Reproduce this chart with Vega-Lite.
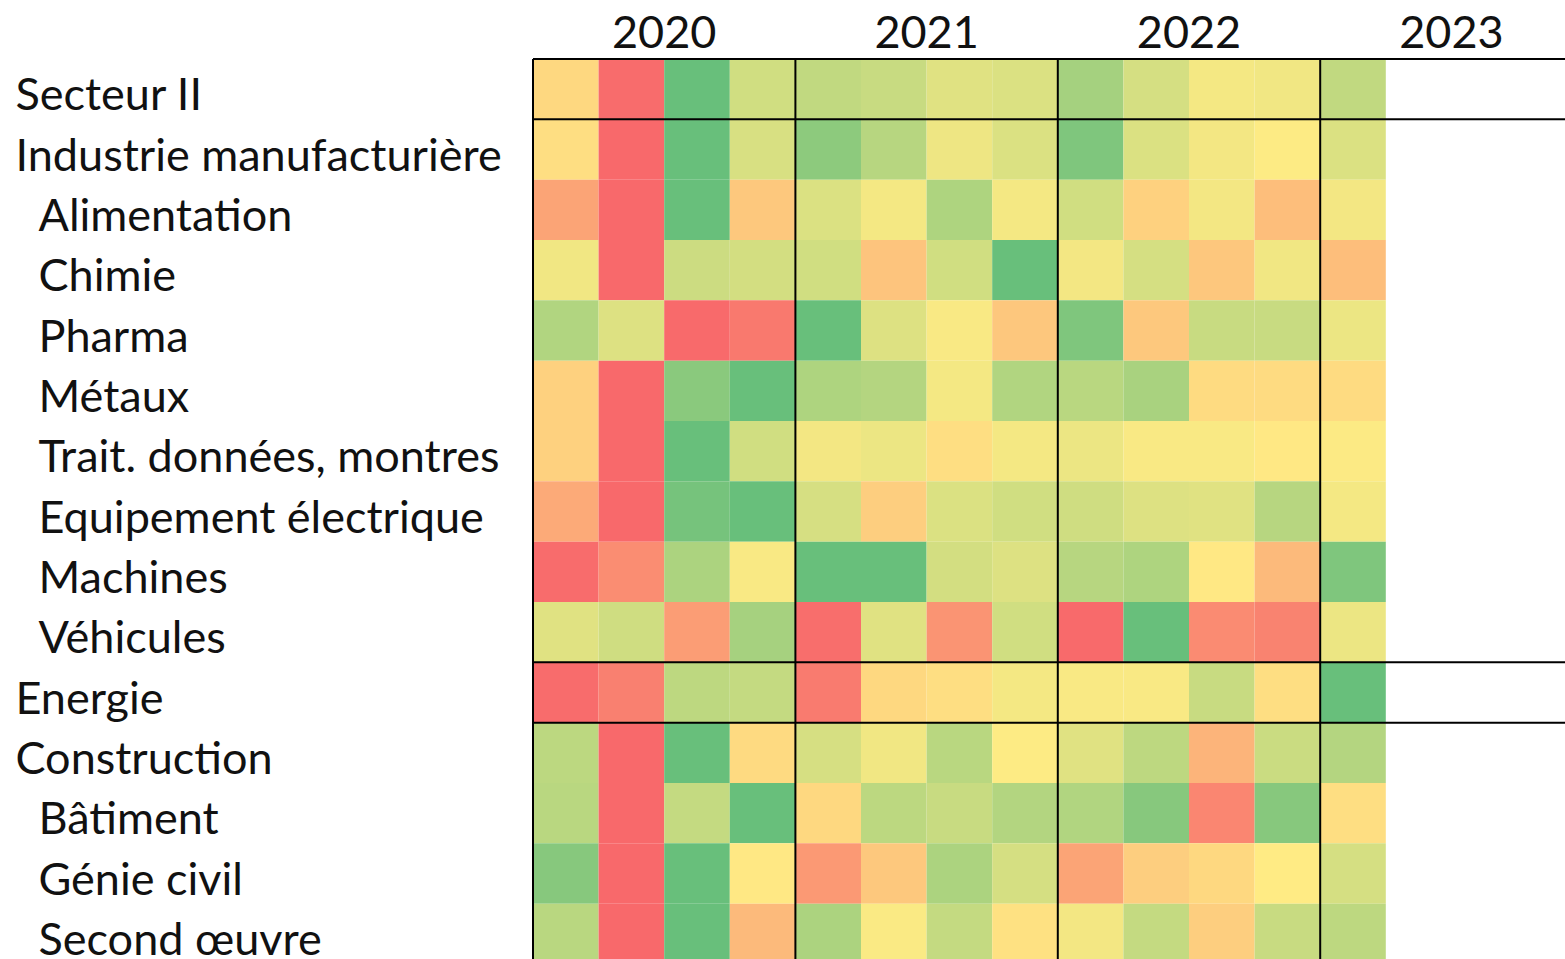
{
  "$schema": "https://vega.github.io/schema/vega-lite/v6.json",
  "width": 1032,
  "height": 900,
  "autosize": "none",
  "padding": {"left": 533, "top": 59, "right": 0, "bottom": 0},
  "background": "white",
  "config": {"view": {"stroke": null}, "font": "Lato"},
  "datasets": {
    "cells": [
      {"sector": "Secteur II", "quarter": "2020 T1", "score": -0.15},
      {"sector": "Secteur II", "quarter": "2020 T2", "score": -0.98},
      {"sector": "Secteur II", "quarter": "2020 T3", "score": 0.97},
      {"sector": "Secteur II", "quarter": "2020 T4", "score": 0.3},
      {"sector": "Secteur II", "quarter": "2021 T1", "score": 0.4},
      {"sector": "Secteur II", "quarter": "2021 T2", "score": 0.35},
      {"sector": "Secteur II", "quarter": "2021 T3", "score": 0.2},
      {"sector": "Secteur II", "quarter": "2021 T4", "score": 0.23},
      {"sector": "Secteur II", "quarter": "2022 T1", "score": 0.58},
      {"sector": "Secteur II", "quarter": "2022 T2", "score": 0.27},
      {"sector": "Secteur II", "quarter": "2022 T3", "score": 0.07},
      {"sector": "Secteur II", "quarter": "2022 T4", "score": 0.09},
      {"sector": "Secteur II", "quarter": "2023 T1", "score": 0.4},

      {"sector": "Industrie manufacturière", "quarter": "2020 T1", "score": -0.1},
      {"sector": "Industrie manufacturière", "quarter": "2020 T2", "score": -1},
      {"sector": "Industrie manufacturière", "quarter": "2020 T3", "score": 0.97},
      {"sector": "Industrie manufacturière", "quarter": "2020 T4", "score": 0.25},
      {"sector": "Industrie manufacturière", "quarter": "2021 T1", "score": 0.73},
      {"sector": "Industrie manufacturière", "quarter": "2021 T2", "score": 0.46},
      {"sector": "Industrie manufacturière", "quarter": "2021 T3", "score": 0.11},
      {"sector": "Industrie manufacturière", "quarter": "2021 T4", "score": 0.23},
      {"sector": "Industrie manufacturière", "quarter": "2022 T1", "score": 0.82},
      {"sector": "Industrie manufacturière", "quarter": "2022 T2", "score": 0.23},
      {"sector": "Industrie manufacturière", "quarter": "2022 T3", "score": 0.08},
      {"sector": "Industrie manufacturière", "quarter": "2022 T4", "score": 0.01},
      {"sector": "Industrie manufacturière", "quarter": "2023 T1", "score": 0.23},

      {"sector": "Alimentation", "quarter": "2020 T1", "score": -0.55},
      {"sector": "Alimentation", "quarter": "2020 T2", "score": -1},
      {"sector": "Alimentation", "quarter": "2020 T3", "score": 0.97},
      {"sector": "Alimentation", "quarter": "2020 T4", "score": -0.27},
      {"sector": "Alimentation", "quarter": "2021 T1", "score": 0.23},
      {"sector": "Alimentation", "quarter": "2021 T2", "score": 0.07},
      {"sector": "Alimentation", "quarter": "2021 T3", "score": 0.52},
      {"sector": "Alimentation", "quarter": "2021 T4", "score": 0.07},
      {"sector": "Alimentation", "quarter": "2022 T1", "score": 0.3},
      {"sector": "Alimentation", "quarter": "2022 T2", "score": -0.2},
      {"sector": "Alimentation", "quarter": "2022 T3", "score": 0.08},
      {"sector": "Alimentation", "quarter": "2022 T4", "score": -0.35},
      {"sector": "Alimentation", "quarter": "2023 T1", "score": 0.08},

      {"sector": "Chimie", "quarter": "2020 T1", "score": 0.09},
      {"sector": "Chimie", "quarter": "2020 T2", "score": -1},
      {"sector": "Chimie", "quarter": "2020 T3", "score": 0.33},
      {"sector": "Chimie", "quarter": "2020 T4", "score": 0.28},
      {"sector": "Chimie", "quarter": "2021 T1", "score": 0.3},
      {"sector": "Chimie", "quarter": "2021 T2", "score": -0.3},
      {"sector": "Chimie", "quarter": "2021 T3", "score": 0.3},
      {"sector": "Chimie", "quarter": "2021 T4", "score": 0.97},
      {"sector": "Chimie", "quarter": "2022 T1", "score": 0.08},
      {"sector": "Chimie", "quarter": "2022 T2", "score": 0.27},
      {"sector": "Chimie", "quarter": "2022 T3", "score": -0.28},
      {"sector": "Chimie", "quarter": "2022 T4", "score": 0.09},
      {"sector": "Chimie", "quarter": "2023 T1", "score": -0.35},

      {"sector": "Pharma", "quarter": "2020 T1", "score": 0.5},
      {"sector": "Pharma", "quarter": "2020 T2", "score": 0.22},
      {"sector": "Pharma", "quarter": "2020 T3", "score": -0.99},
      {"sector": "Pharma", "quarter": "2020 T4", "score": -0.88},
      {"sector": "Pharma", "quarter": "2021 T1", "score": 0.97},
      {"sector": "Pharma", "quarter": "2021 T2", "score": 0.22},
      {"sector": "Pharma", "quarter": "2021 T3", "score": 0.04},
      {"sector": "Pharma", "quarter": "2021 T4", "score": -0.28},
      {"sector": "Pharma", "quarter": "2022 T1", "score": 0.82},
      {"sector": "Pharma", "quarter": "2022 T2", "score": -0.27},
      {"sector": "Pharma", "quarter": "2022 T3", "score": 0.35},
      {"sector": "Pharma", "quarter": "2022 T4", "score": 0.35},
      {"sector": "Pharma", "quarter": "2023 T1", "score": 0.12},

      {"sector": "Métaux", "quarter": "2020 T1", "score": -0.2},
      {"sector": "Métaux", "quarter": "2020 T2", "score": -1},
      {"sector": "Métaux", "quarter": "2020 T3", "score": 0.75},
      {"sector": "Métaux", "quarter": "2020 T4", "score": 0.97},
      {"sector": "Métaux", "quarter": "2021 T1", "score": 0.52},
      {"sector": "Métaux", "quarter": "2021 T2", "score": 0.48},
      {"sector": "Métaux", "quarter": "2021 T3", "score": 0.07},
      {"sector": "Métaux", "quarter": "2021 T4", "score": 0.5},
      {"sector": "Métaux", "quarter": "2022 T1", "score": 0.45},
      {"sector": "Métaux", "quarter": "2022 T2", "score": 0.55},
      {"sector": "Métaux", "quarter": "2022 T3", "score": -0.12},
      {"sector": "Métaux", "quarter": "2022 T4", "score": -0.12},
      {"sector": "Métaux", "quarter": "2023 T1", "score": -0.12},

      {"sector": "Trait. données, montres", "quarter": "2020 T1", "score": -0.2},
      {"sector": "Trait. données, montres", "quarter": "2020 T2", "score": -1},
      {"sector": "Trait. données, montres", "quarter": "2020 T3", "score": 0.97},
      {"sector": "Trait. données, montres", "quarter": "2020 T4", "score": 0.3},
      {"sector": "Trait. données, montres", "quarter": "2021 T1", "score": 0.08},
      {"sector": "Trait. données, montres", "quarter": "2021 T2", "score": 0.12},
      {"sector": "Trait. données, montres", "quarter": "2021 T3", "score": -0.1},
      {"sector": "Trait. données, montres", "quarter": "2021 T4", "score": 0.07},
      {"sector": "Trait. données, montres", "quarter": "2022 T1", "score": 0.12},
      {"sector": "Trait. données, montres", "quarter": "2022 T2", "score": 0.04},
      {"sector": "Trait. données, montres", "quarter": "2022 T3", "score": 0.04},
      {"sector": "Trait. données, montres", "quarter": "2022 T4", "score": -0.02},
      {"sector": "Trait. données, montres", "quarter": "2023 T1", "score": 0.02},

      {"sector": "Equipement électrique", "quarter": "2020 T1", "score": -0.5},
      {"sector": "Equipement électrique", "quarter": "2020 T2", "score": -1},
      {"sector": "Equipement électrique", "quarter": "2020 T3", "score": 0.88},
      {"sector": "Equipement électrique", "quarter": "2020 T4", "score": 0.97},
      {"sector": "Equipement électrique", "quarter": "2021 T1", "score": 0.26},
      {"sector": "Equipement électrique", "quarter": "2021 T2", "score": -0.22},
      {"sector": "Equipement électrique", "quarter": "2021 T3", "score": 0.23},
      {"sector": "Equipement électrique", "quarter": "2021 T4", "score": 0.3},
      {"sector": "Equipement électrique", "quarter": "2022 T1", "score": 0.31},
      {"sector": "Equipement électrique", "quarter": "2022 T2", "score": 0.22},
      {"sector": "Equipement électrique", "quarter": "2022 T3", "score": 0.2},
      {"sector": "Equipement électrique", "quarter": "2022 T4", "score": 0.46},
      {"sector": "Equipement électrique", "quarter": "2023 T1", "score": 0.07},

      {"sector": "Machines", "quarter": "2020 T1", "score": -0.98},
      {"sector": "Machines", "quarter": "2020 T2", "score": -0.72},
      {"sector": "Machines", "quarter": "2020 T3", "score": 0.53},
      {"sector": "Machines", "quarter": "2020 T4", "score": 0.04},
      {"sector": "Machines", "quarter": "2021 T1", "score": 0.97},
      {"sector": "Machines", "quarter": "2021 T2", "score": 0.97},
      {"sector": "Machines", "quarter": "2021 T3", "score": 0.28},
      {"sector": "Machines", "quarter": "2021 T4", "score": 0.22},
      {"sector": "Machines", "quarter": "2022 T1", "score": 0.46},
      {"sector": "Machines", "quarter": "2022 T2", "score": 0.52},
      {"sector": "Machines", "quarter": "2022 T3", "score": -0.02},
      {"sector": "Machines", "quarter": "2022 T4", "score": -0.38},
      {"sector": "Machines", "quarter": "2023 T1", "score": 0.82},

      {"sector": "Véhicules", "quarter": "2020 T1", "score": 0.2},
      {"sector": "Véhicules", "quarter": "2020 T2", "score": 0.31},
      {"sector": "Véhicules", "quarter": "2020 T3", "score": -0.6},
      {"sector": "Véhicules", "quarter": "2020 T4", "score": 0.57},
      {"sector": "Véhicules", "quarter": "2021 T1", "score": -0.96},
      {"sector": "Véhicules", "quarter": "2021 T2", "score": 0.2},
      {"sector": "Véhicules", "quarter": "2021 T3", "score": -0.67},
      {"sector": "Véhicules", "quarter": "2021 T4", "score": 0.3},
      {"sector": "Véhicules", "quarter": "2022 T1", "score": -0.99},
      {"sector": "Véhicules", "quarter": "2022 T2", "score": 0.97},
      {"sector": "Véhicules", "quarter": "2022 T3", "score": -0.74},
      {"sector": "Véhicules", "quarter": "2022 T4", "score": -0.8},
      {"sector": "Véhicules", "quarter": "2023 T1", "score": 0.12},

      {"sector": "Energie", "quarter": "2020 T1", "score": -0.98},
      {"sector": "Energie", "quarter": "2020 T2", "score": -0.82},
      {"sector": "Energie", "quarter": "2020 T3", "score": 0.42},
      {"sector": "Energie", "quarter": "2020 T4", "score": 0.38},
      {"sector": "Energie", "quarter": "2021 T1", "score": -0.86},
      {"sector": "Energie", "quarter": "2021 T2", "score": -0.15},
      {"sector": "Energie", "quarter": "2021 T3", "score": -0.1},
      {"sector": "Energie", "quarter": "2021 T4", "score": 0.07},
      {"sector": "Energie", "quarter": "2022 T1", "score": 0.04},
      {"sector": "Energie", "quarter": "2022 T2", "score": 0.04},
      {"sector": "Energie", "quarter": "2022 T3", "score": 0.35},
      {"sector": "Energie", "quarter": "2022 T4", "score": -0.1},
      {"sector": "Energie", "quarter": "2023 T1", "score": 0.97},

      {"sector": "Construction", "quarter": "2020 T1", "score": 0.43},
      {"sector": "Construction", "quarter": "2020 T2", "score": -1},
      {"sector": "Construction", "quarter": "2020 T3", "score": 0.97},
      {"sector": "Construction", "quarter": "2020 T4", "score": -0.13},
      {"sector": "Construction", "quarter": "2021 T1", "score": 0.26},
      {"sector": "Construction", "quarter": "2021 T2", "score": 0.09},
      {"sector": "Construction", "quarter": "2021 T3", "score": 0.45},
      {"sector": "Construction", "quarter": "2021 T4", "score": 0.01},
      {"sector": "Construction", "quarter": "2022 T1", "score": 0.2},
      {"sector": "Construction", "quarter": "2022 T2", "score": 0.42},
      {"sector": "Construction", "quarter": "2022 T3", "score": -0.42},
      {"sector": "Construction", "quarter": "2022 T4", "score": 0.34},
      {"sector": "Construction", "quarter": "2023 T1", "score": 0.48},

      {"sector": "Bâtiment", "quarter": "2020 T1", "score": 0.45},
      {"sector": "Bâtiment", "quarter": "2020 T2", "score": -1},
      {"sector": "Bâtiment", "quarter": "2020 T3", "score": 0.38},
      {"sector": "Bâtiment", "quarter": "2020 T4", "score": 0.97},
      {"sector": "Bâtiment", "quarter": "2021 T1", "score": -0.15},
      {"sector": "Bâtiment", "quarter": "2021 T2", "score": 0.43},
      {"sector": "Bâtiment", "quarter": "2021 T3", "score": 0.35},
      {"sector": "Bâtiment", "quarter": "2021 T4", "score": 0.49},
      {"sector": "Bâtiment", "quarter": "2022 T1", "score": 0.5},
      {"sector": "Bâtiment", "quarter": "2022 T2", "score": 0.77},
      {"sector": "Bâtiment", "quarter": "2022 T3", "score": -0.78},
      {"sector": "Bâtiment", "quarter": "2022 T4", "score": 0.77},
      {"sector": "Bâtiment", "quarter": "2023 T1", "score": -0.1},

      {"sector": "Génie civil", "quarter": "2020 T1", "score": 0.77},
      {"sector": "Génie civil", "quarter": "2020 T2", "score": -1},
      {"sector": "Génie civil", "quarter": "2020 T3", "score": 0.97},
      {"sector": "Génie civil", "quarter": "2020 T4", "score": -0.02},
      {"sector": "Génie civil", "quarter": "2021 T1", "score": -0.63},
      {"sector": "Génie civil", "quarter": "2021 T2", "score": -0.27},
      {"sector": "Génie civil", "quarter": "2021 T3", "score": 0.53},
      {"sector": "Génie civil", "quarter": "2021 T4", "score": 0.27},
      {"sector": "Génie civil", "quarter": "2022 T1", "score": -0.55},
      {"sector": "Génie civil", "quarter": "2022 T2", "score": -0.22},
      {"sector": "Génie civil", "quarter": "2022 T3", "score": -0.15},
      {"sector": "Génie civil", "quarter": "2022 T4", "score": 0},
      {"sector": "Génie civil", "quarter": "2023 T1", "score": 0.27},

      {"sector": "Second œuvre", "quarter": "2020 T1", "score": 0.45},
      {"sector": "Second œuvre", "quarter": "2020 T2", "score": -1},
      {"sector": "Second œuvre", "quarter": "2020 T3", "score": 0.97},
      {"sector": "Second œuvre", "quarter": "2020 T4", "score": -0.38},
      {"sector": "Second œuvre", "quarter": "2021 T1", "score": 0.53},
      {"sector": "Second œuvre", "quarter": "2021 T2", "score": 0.03},
      {"sector": "Second œuvre", "quarter": "2021 T3", "score": 0.38},
      {"sector": "Second œuvre", "quarter": "2021 T4", "score": -0.08},
      {"sector": "Second œuvre", "quarter": "2022 T1", "score": 0.08},
      {"sector": "Second œuvre", "quarter": "2022 T2", "score": 0.38},
      {"sector": "Second œuvre", "quarter": "2022 T3", "score": -0.22},
      {"sector": "Second œuvre", "quarter": "2022 T4", "score": 0.35},
      {"sector": "Second œuvre", "quarter": "2023 T1", "score": 0.42}
    ],
    "hlines": [
      {"sector": "Secteur II"},
      {"sector": "Industrie manufacturière"},
      {"sector": "Energie"},
      {"sector": "Construction"}
    ],
    "vlines": [
      {"quarter": "2020 T1"},
      {"quarter": "2021 T1"},
      {"quarter": "2022 T1"},
      {"quarter": "2023 T1"}
    ]
  },
  "layer": [
    {
      "data": {"name": "cells"},
      "mark": {"type": "rect"},
      "encoding": {
        "x": {
          "field": "quarter",
          "type": "ordinal",
          "scale": {
            "domain": ["2020 T1","2020 T2","2020 T3","2020 T4","2021 T1","2021 T2","2021 T3","2021 T4","2022 T1","2022 T2","2022 T3","2022 T4","2023 T1","2023 T2","2023 T3","2023 T4"],
            "range": [0, 1049.6],
            "paddingInner": 0,
            "paddingOuter": 0
          },
          "axis": {
            "orient": "top",
            "title": null,
            "values": ["2020 T3", "2021 T3", "2022 T3", "2023 T3"],
            "labelExpr": "slice(datum.value, 0, 4)",
            "labelAngle": 0,
            "labelAlign": "center",
            "labelBaseline": "alphabetic",
            "labelOffset": -32.8,
            "labelPadding": 12,
            "labelFontSize": 45,
            "labelFont": "Lato",
            "labelFontWeight": 400,
            "labelColor": "#111111",
            "domain": false,
            "ticks": false,
            "tickSize": 0,
            "grid": false
          }
        },
        "y": {
          "field": "sector",
          "type": "nominal",
          "scale": {
            "domain": ["Secteur II","Industrie manufacturière","Alimentation","Chimie","Pharma","Métaux","Trait. données, montres","Equipement électrique","Machines","Véhicules","Energie","Construction","Bâtiment","Génie civil","Second œuvre"],
            "range": [0, 905],
            "paddingInner": 0,
            "paddingOuter": 0
          },
          "axis": {
            "orient": "left",
            "title": null,
            "domain": false,
            "ticks": false,
            "tickSize": 0,
            "grid": false,
            "labelAlign": "left",
            "labelBaseline": "alphabetic",
            "labelOffset": 21,
            "labelFontSize": 45,
            "labelFont": "Lato",
            "labelFontWeight": 400,
            "labelColor": "#111111",
            "labelLimit": 600,
            "labelPadding": {
              "condition": {"test": "indexof(['Secteur II','Industrie manufacturière','Energie','Construction'], datum.value) >= 0", "value": 518},
              "value": 495
            }
          }
        },
        "color": {
          "field": "score",
          "type": "quantitative",
          "scale": {"domain": [-1, 0, 1], "range": ["#F8696B", "#FFEB84", "#63BE7B"], "interpolate": "rgb"},
          "legend": null
        }
      }
    },
    {
      "data": {"name": "hlines"},
      "mark": {"type": "rule", "color": "black", "strokeWidth": 2},
      "encoding": {
        "y": {"field": "sector", "type": "nominal", "bandPosition": 0}
      }
    },
    {
      "data": {"name": "vlines"},
      "mark": {"type": "rule", "color": "black", "strokeWidth": 2},
      "encoding": {
        "x": {"field": "quarter", "type": "ordinal", "bandPosition": 0}
      }
    }
  ]
}
